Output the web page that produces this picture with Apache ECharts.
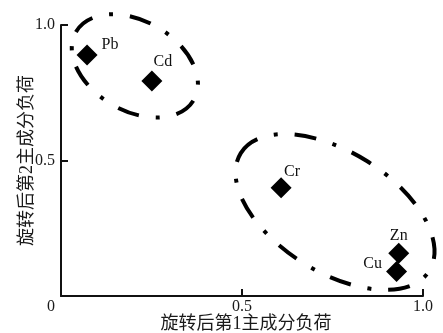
<!DOCTYPE html>
<html>
<head>
<meta charset="utf-8">
<script src="https://cdn.jsdelivr.net/npm/echarts@6/dist/echarts.min.js"></script>
<style>html,body{margin:0;padding:0;background:#fff}#c{width:443px;height:333px}</style>
</head>
<body>
<div id="c"></div>
<script>
// ---- data ----
const elements = ['Pb', 'Cd', 'Cr', 'Zn', 'Cu'];
const pc1Loadings = [0.072, 0.251, 0.608, 0.933, 0.927];
const pc2Loadings = [0.889, 0.793, 0.399, 0.158, 0.090];
const axisTicks = [0, 0.5, 1.0];
const xAxisName = '旋转后第1主成分负荷';
const yAxisName = '旋转后第2主成分负荷';
// group ellipses: centre (pc1, pc2), semi-axes in pc1 units, tilt in degrees
const groupCentreX = [0.204, 0.757];
const groupCentreY = [0.849, 0.310];
const groupSemiMajor = [0.188, 0.307];
const groupSemiMinor = [0.124, 0.166];
const groupTilt = [30, 32];

// ---- styling ----
const labelOffsets = {Pb: [23, -10], Cd: [11, -19], Cr: [11, -16], Zn: [0, -17], Cu: [-24, -8]};
const serif = "'Liberation Serif', 'Times New Roman', serif";
const cjk = "'Liberation Serif', 'Noto Sans CJK SC', serif";

const chart = echarts.init(document.getElementById('c'), null, {renderer: 'canvas'});

const scatterData = elements.map((n, i) => ({
  name: n,
  value: [pc1Loadings[i], pc2Loadings[i]],
  label: {offset: labelOffsets[n]}
}));
const ellipseData = groupCentreX.map((x, i) => [x, groupCentreY[i], groupSemiMajor[i], groupSemiMinor[i], groupTilt[i]]);

const axisCommon = {
  type: 'value', min: axisTicks[0], max: axisTicks[axisTicks.length - 1], interval: axisTicks[1] - axisTicks[0],
  splitLine: {show: false},
  nameMoveOverlap: false,
  axisLine: {show: true, lineStyle: {color: '#111', width: 2}},
  axisTick: {show: true, inside: true, length: 7, lineStyle: {color: '#111', width: 2}}
};

chart.setOption({
  animation: false,
  backgroundColor: '#fff',
  grid: {left: 61, right: 20, top: 25, bottom: 37, containLabel: false, outerBoundsMode: 'none'},
  xAxis: Object.assign({}, axisCommon, {
    name: xAxisName, nameLocation: 'middle', nameGap: 19,
    nameTextStyle: {fontFamily: cjk, fontSize: 18, color: '#1a1a1a', padding: [0, 0, 0, 8]},
    axisLabel: {
      margin: 3, fontFamily: serif, fontSize: 16, color: '#1a1a1a',
      formatter: v => v === 0 ? '{z|0}' : v.toFixed(1),
      rich: {z: {fontFamily: serif, fontSize: 16, color: '#1a1a1a', padding: [0, 20, 0, 0]}}
    }
  }),
  yAxis: Object.assign({}, axisCommon, {
    name: yAxisName, nameLocation: 'middle', nameGap: 25, nameRotate: 90,
    nameTextStyle: {fontFamily: cjk, fontSize: 18, color: '#1a1a1a'},
    axisLabel: {
      margin: 6, fontFamily: serif, fontSize: 16, color: '#1a1a1a',
      formatter: v => v === 0 ? '' : v.toFixed(1)
    }
  }),
  series: [
    {
      type: 'custom',
      clip: false,
      silent: true,
      data: ellipseData,
      renderItem: function (params, api) {
        const c = api.coord([api.value(0), api.value(1)]);
        const rx = api.size([api.value(2), 0])[0];
        const ry = api.size([api.value(3), 0])[0];
        return {
          type: 'ellipse',
          x: c[0], y: c[1],
          rotation: -api.value(4) * Math.PI / 180,
          shape: {cx: 0, cy: 0, rx: rx, ry: ry},
          style: {fill: 'none', stroke: '#000', lineWidth: 4, lineDash: [22, 17, 4, 17]}
        };
      }
    },
    {
      type: 'scatter',
      symbol: 'diamond',
      symbolSize: 21,
      itemStyle: {color: '#000', opacity: 1},
      label: {
        show: true, position: 'inside', formatter: '{b}',
        fontFamily: serif, fontSize: 16, color: '#111'
      },
      data: scatterData
    }
  ]
});
</script>
</body>
</html>
